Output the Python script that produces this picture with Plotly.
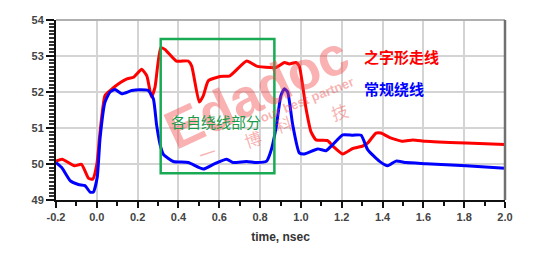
import plotly.graph_objects as go

red_t = [-0.2, -0.17, -0.11, -0.075, -0.04, -0.02, 0.0, 0.016, 0.04, 0.065, 0.105, 0.145, 0.18, 0.22, 0.245,
         0.268, 0.285, 0.313, 0.334, 0.39, 0.448, 0.465, 0.502, 0.522, 0.546, 0.604, 0.652, 0.734, 0.783,
         0.85, 0.878, 0.919, 0.943, 0.976, 0.992, 1.025, 1.049, 1.074, 1.131, 1.156, 1.205, 1.254, 1.303,
         1.327, 1.368, 1.392, 1.433, 1.499, 1.548, 1.613, 1.809, 2.0]
red_v = [50.08, 50.13, 49.95, 49.99, 49.6, 49.58, 49.99, 50.9, 51.9, 52.04, 52.22, 52.36, 52.41, 52.63, 52.45,
         51.86, 52.13, 53.23, 53.18, 52.86, 52.86, 52.72, 51.72, 51.9, 52.31, 52.43, 52.45, 52.86, 52.72,
         52.68, 52.68, 52.82, 52.78, 52.82, 52.72, 51.54, 50.9, 50.67, 50.65, 50.5, 50.28, 50.43, 50.5,
         50.58, 50.86, 50.86, 50.74, 50.63, 50.67, 50.63, 50.58, 50.54]

blue_t = [-0.2, -0.172, -0.131, -0.09, -0.058, -0.033, -0.017, 0.002, 0.016, 0.04, 0.065, 0.089, 0.122,
          0.171, 0.212, 0.252, 0.277, 0.293, 0.31, 0.326, 0.375, 0.448, 0.522, 0.571, 0.636, 0.668, 0.734,
          0.783, 0.832, 0.853, 0.878, 0.902, 0.919, 0.935, 0.96, 0.992, 1.017, 1.082, 1.123, 1.156, 1.205,
          1.254, 1.295, 1.327, 1.384, 1.425, 1.466, 1.515, 1.613, 1.809, 2.0]
blue_v = [50.04, 49.9, 49.54, 49.43, 49.4, 49.22, 49.22, 49.63, 50.72, 51.72, 52.0, 52.07, 51.95,
          52.04, 52.06, 52.04, 51.81, 51.08, 50.54, 50.27, 50.07, 50.04, 49.86, 49.99, 50.13, 50.04, 50.07,
          50.04, 50.08, 50.36, 51.0, 51.9, 52.09, 52.0, 51.08, 50.31, 50.28, 50.42, 50.37, 50.54, 50.81,
          50.8, 50.8, 50.4, 50.08, 49.95, 50.08, 50.04, 50.01, 49.95, 49.88]

box_x = [0.313, 0.87]
box_y = [49.74, 53.47]

x_ticks = [-0.2, 0.0, 0.2, 0.4, 0.6, 0.8, 1.0, 1.2, 1.4, 1.6, 1.8, 2.0]
x_ticktext = ["-0.2", "0.0", "0.2", "0.4", "0.6", "0.8", "1.0", "1.2", "1.4", "1.6", "1.8", "2.0"]
y_ticks = [49, 50, 51, 52, 53, 54]

fig = go.Figure()

wm = "rgba(240,70,70,0.42)"
cjk = "Noto Sans CJK SC"
fig.add_annotation(x=0.78, y=52.0, text="<b>Edadoc</b>", showarrow=False, textangle=-25,
                   font=dict(family="Liberation Sans", size=54, color=wm))
fig.add_annotation(x=1.03, y=51.8, text="<b>our best partner</b>", showarrow=False, textangle=-22,
                   font=dict(family="Liberation Sans", size=13, color=wm))
for tx, ty, ch in [(0.54, 50.31, "一"), (0.765, 50.72, "博"), (0.917, 51.13, "科"), (1.19, 51.46, "技")]:
    fig.add_annotation(x=tx, y=ty, text=ch, showarrow=False, textangle=-18,
                       font=dict(family=cjk, size=17, color=wm))

fig.add_trace(go.Scatter(x=red_t, y=red_v, mode="lines",
                         line=dict(color="#ff0000", width=3, shape="spline", smoothing=0.5)))
fig.add_trace(go.Scatter(x=blue_t, y=blue_v, mode="lines",
                         line=dict(color="#0000ff", width=3, shape="spline", smoothing=0.5)))

fig.add_shape(type="rect", x0=box_x[0], x1=box_x[1], y0=box_y[0], y1=box_y[1],
              line=dict(color="#1aaa55", width=2.5))
# frame top/right
fig.add_shape(type="line", xref="paper", yref="paper", x0=0, x1=1, y0=1, y1=1,
              line=dict(color="#b0b0b0", width=2))
fig.add_shape(type="line", xref="paper", yref="paper", x0=1, x1=1, y0=0, y1=1,
              line=dict(color="#707070", width=2.5))

fig.add_annotation(x=0.584, y=51.19, text="各自绕线部分", showarrow=False,
                   font=dict(family=cjk, size=15, color="#1a9a4a"))
fig.add_annotation(x=1.495, y=52.99, text="<b>之字形走线</b>", showarrow=False,
                   font=dict(family=cjk, size=15, color="#ff0000"))
fig.add_annotation(x=1.456, y=52.09, text="<b>常规绕线</b>", showarrow=False,
                   font=dict(family=cjk, size=15, color="#0000ff"))

tickfont = dict(family="Liberation Sans", size=11, color="#444444", weight="bold")
fig.update_xaxes(range=[-0.2, 2.0], tickvals=x_ticks, ticktext=x_ticktext, showgrid=True,
                 gridcolor="#d4d4d4", gridwidth=1.5, showline=True, linecolor="#111111", linewidth=2,
                 ticks="outside", ticklen=6, tickwidth=1.5, tickcolor="#111111", zeroline=False,
                 minor=dict(dtick=0.1, tick0=-0.2, ticks="outside", ticklen=4, tickcolor="#111111",
                            showgrid=False),
                 tickfont=tickfont,
                 title=dict(text="<b>time, nsec</b>", standoff=10,
                            font=dict(family="Liberation Sans", size=12, color="#333333")))
fig.update_yaxes(range=[49, 54], tickvals=y_ticks, showgrid=True, gridcolor="#d4d4d4", gridwidth=1.5,
                 showline=True, linecolor="#111111", linewidth=2, ticks="outside", ticklen=8,
                 tickwidth=1.5, tickcolor="#111111", zeroline=False,
                 minor=dict(dtick=0.1, tick0=49, ticks="outside", ticklen=5, tickcolor="#333333",
                            showgrid=False),
                 tickfont=tickfont)

fig.update_layout(width=536, height=254, margin=dict(l=56, r=31, t=20, b=51),
                  paper_bgcolor="white", plot_bgcolor="white", showlegend=False)
fig.write_html("out.html")
